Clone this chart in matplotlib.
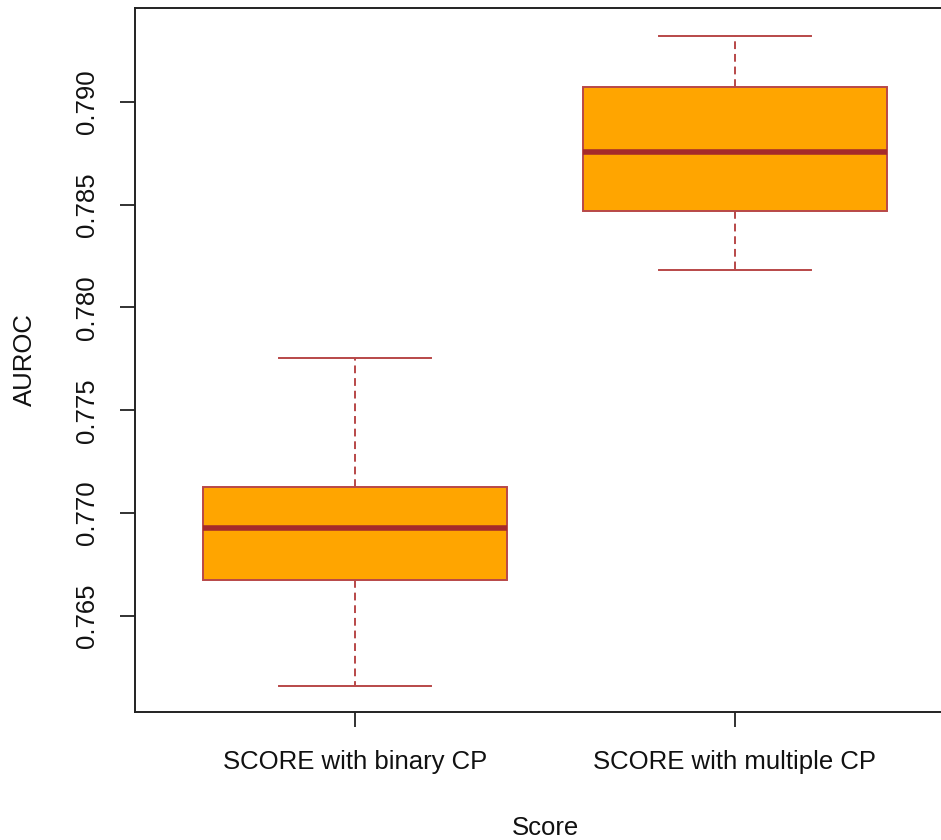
import matplotlib
matplotlib.use("Agg")
import matplotlib.pyplot as plt

plt.rcParams["font.family"] = ["Liberation Sans", "DejaVu Sans"]

# Five-number summaries for each score variant
scores    = ["SCORE with binary CP", "SCORE with multiple CP"]
whis_low  = [0.76158, 0.78182]
q1        = [0.76674, 0.78470]
medians   = [0.76927, 0.78757]
q3        = [0.77127, 0.79073]
whis_high = [0.77754, 0.79321]

BROWN  = "#A52A2A"
EDGE   = "#B84848"
ORANGE = "#FFA500"

stats = []
for lab, lo, a, m, b, hi in zip(scores, whis_low, q1, medians, q3, whis_high):
    stats.append(dict(label=lab, whislo=lo, q1=a, med=m, q3=b, whishi=hi, fliers=[]))

fig = plt.figure(figsize=(9.41, 8.40), dpi=100)
ax = fig.add_axes([135 / 941, 128 / 840, 820 / 941, 704 / 840])

ax.bxp(stats, positions=[1, 2], widths=0.8, capwidths=0.4, patch_artist=True,
       showfliers=False,
       boxprops=dict(facecolor=ORANGE, edgecolor=EDGE, linewidth=1.4),
       medianprops=dict(color=BROWN, linewidth=4.0, solid_capstyle="butt"),
       whiskerprops=dict(color=EDGE, linewidth=1.4, linestyle=(0, (4.0, 2.5))),
       capprops=dict(color=EDGE, linewidth=1.4))

ax.set_xlim(0.42, 2.58)
ax.set_ylim(0.76032, 0.79457)

yticks = [0.765, 0.770, 0.775, 0.780, 0.785, 0.790]
ax.set_yticks(yticks)
ax.set_yticklabels([f"{t:.3f}" for t in yticks], rotation=90, va="center")
ax.set_xticks([1, 2])
ax.set_xticklabels(scores)

ax.tick_params(axis="both", length=11, width=1.3, color="#222222",
               labelsize=18.5, colors="#111111")
ax.tick_params(axis="y", pad=15)
ax.tick_params(axis="x", pad=16)

for sp in ax.spines.values():
    sp.set_linewidth(1.4)
    sp.set_color("#222222")

ax.set_xlabel("Score", fontsize=18.5, color="#111111")
ax.set_ylabel("AUROC", fontsize=18.5, color="#111111")
ax.xaxis.set_label_coords(0.5, (12 - 128) / 704)
ax.yaxis.set_label_coords((25 - 135) / 820, 0.5)
ax.xaxis.label.set_va("center")
ax.yaxis.label.set_va("center")

fig.savefig("out.png", dpi=100)
